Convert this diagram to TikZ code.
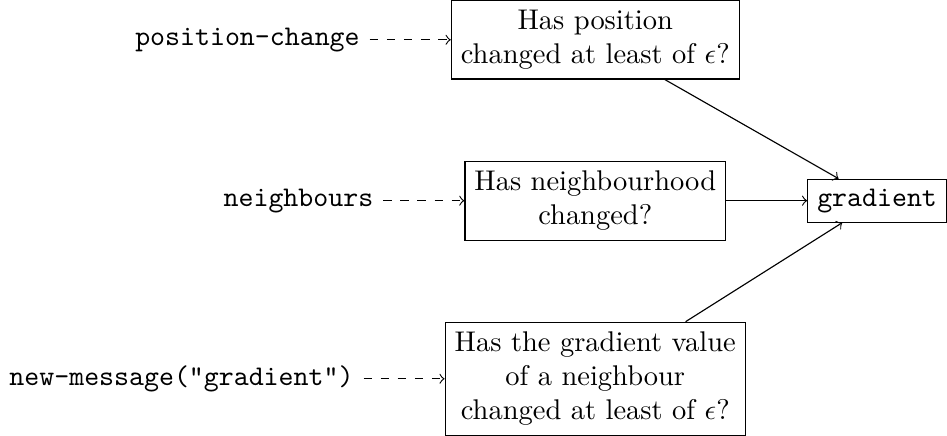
\documentclass[tikz,border=0pt]{standalone}
\usepackage{amsmath}
\usepackage{amssymb}
\usetikzlibrary{positioning}

\begin{document}
\begin{tikzpicture}[node distance = 1cm]
    \tikzstyle{check}=[draw,rectangle,align=center]
    \tikzstyle{event}=[font=\ttfamily]
    \tikzstyle{trigger}=[draw,line width = .4pt,dashed,->,black!100]
    \tikzstyle{edge}=[draw,line width = .4pt,->,black!100]
    \node[check] (nbr) {Has neighbourhood\\changed?};
    \node[check, above = of nbr] (pos) {Has position\\changed at least of $\epsilon$?};
    \node[check, below = of nbr] (msg) {Has the gradient value\\of a neighbour\\changed at least of $\epsilon$?};
    \node[check, right = of nbr, font=\ttfamily] (grad) {gradient};
    \node[event, left = of pos] (poslbl) {position-change};
    \node[event, left = of nbr] (nbrlbl) {neighbours};
    \node[event, left = of msg] (msglbl) {new-message("gradient")};
    \draw[trigger] (poslbl) -- (pos);
    \draw[trigger] (nbrlbl) -- (nbr);
    \draw[trigger] (msglbl) -- (msg);
    \draw[edge] (pos) -- (grad);
    \draw[edge] (nbr) -- (grad);
    \draw[edge] (msg) -- (grad);
\end{tikzpicture}
\end{document}
